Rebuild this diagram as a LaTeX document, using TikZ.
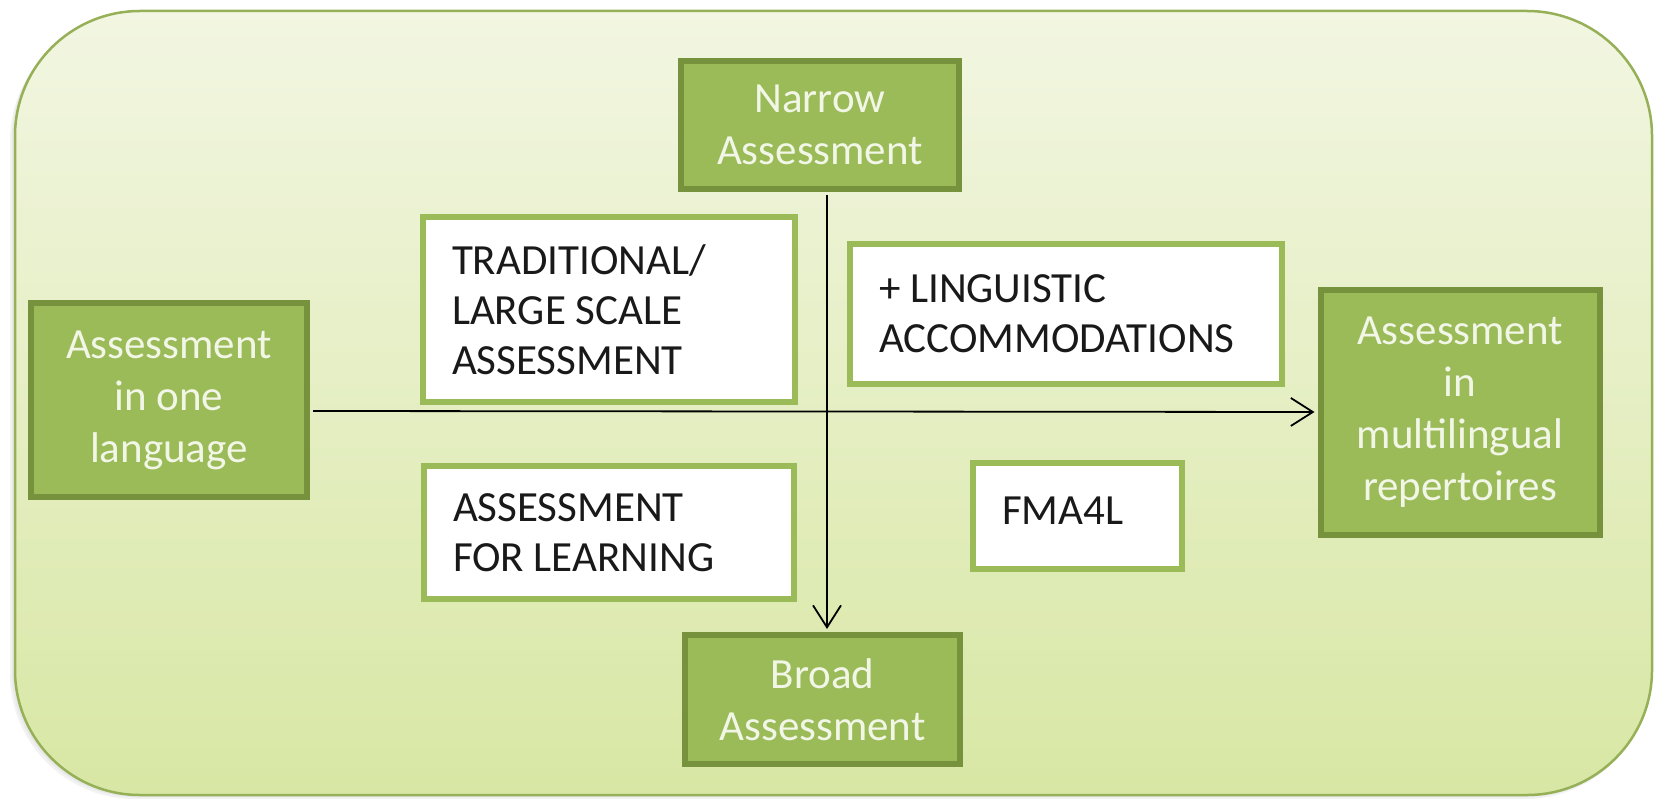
\documentclass[tikz,border=0pt]{standalone}
\usepackage{fontspec}
\setmainfont{Carlito}
\usetikzlibrary{arrows.meta}
\definecolor{gfill}{RGB}{155,187,89}
\definecolor{gborder}{RGB}{118,146,61}
\definecolor{gtext}{RGB}{242,246,230}
\definecolor{frame}{RGB}{150,176,88}
\definecolor{bgtop}{RGB}{242,246,226}
\definecolor{bgbot}{RGB}{216,231,164}
\tikzset{
  gbox/.style={draw=gborder, line width=6pt, fill=gfill, text=gtext, align=flush center,
    inner sep=0pt, font=\fontsize{43}{52}\selectfont},
  wbox/.style={draw=gfill, line width=6pt, fill=white, text=black!90, align=flush left,
    inner ysep=0pt, inner xsep=29pt, font=\fontsize{43}{50}\selectfont},
  arr/.style={draw=black, line width=1.8pt, -{Straight Barb[length=22pt,width=28pt,line width=1.8pt]},
    shorten <=3pt, shorten >=3pt},
}
\begin{document}
\begin{tikzpicture}[x=1pt,y=-1pt]
\useasboundingbox (0,0) rectangle (1664,799);
% soft shadow and frame
\fill[black!5, rounded corners=125pt] (10,16) rectangle (1650,799);
\fill[black!9, rounded corners=125pt] (12,14) rectangle (1651,797);
\path[draw=frame, line width=2.5pt, top color=bgtop, bottom color=bgbot, rounded corners=125pt]
  (15,11) rectangle (1652,795);
% green boxes
\node[gbox, minimum width=278pt, minimum height=128pt] (narrow) at (820,125) {Narrow\\Assessment};
\node[gbox, minimum width=275pt, minimum height=129pt] (broad) at (822.5,699.5) {Broad\\Assessment};
\node[gbox, minimum width=276pt, minimum height=194pt] (one) at (169,400) {Assessment\\in one\\language};
\node[gbox, minimum width=279pt, minimum height=245pt] (multi) at (1460,412.5) {Assessment\\in\\multilingual\\repertoires};
% white boxes
\node[wbox, text width=314pt, minimum height=185pt] (trad) at (609,309.5) {TRADITIONAL/\\LARGE SCALE\\ASSESSMENT};
\node[wbox, text width=374pt, minimum height=140pt] (ling) at (1066,314) {+ LINGUISTIC\\ACCOMMODATIONS};
\node[wbox, text width=312pt, minimum height=133pt] (afl) at (609,532.5) {ASSESSMENT\\FOR LEARNING};
\node[wbox, text width=151pt, minimum height=106pt, text depth=11pt] (fma) at (1077.5,516) {FMA4L};
% connectors
\draw[arr] ([yshift=-11pt]one.east) -- ([yshift=0.5pt]multi.west);
\draw[arr] ([xshift=7pt]narrow.south) -- ([xshift=4.5pt]broad.north);
\end{tikzpicture}
\end{document}
